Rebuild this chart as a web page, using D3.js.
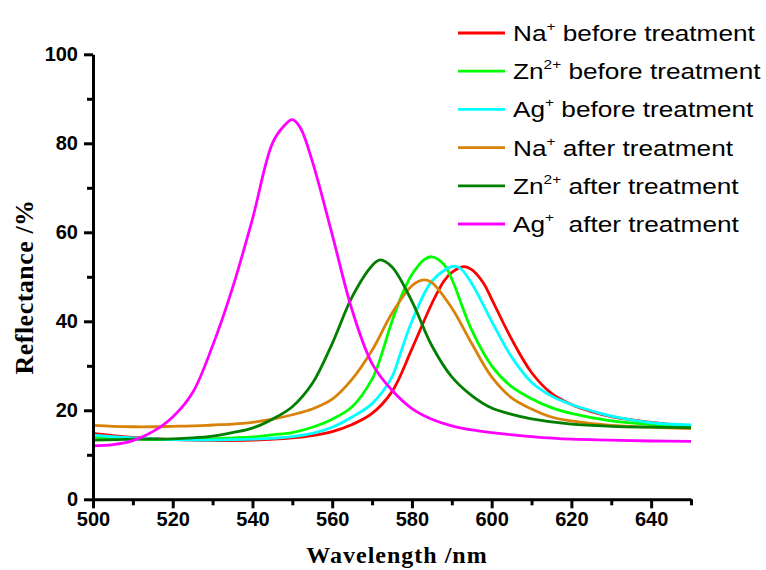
<!DOCTYPE html>
<html>
<head>
<meta charset="utf-8">
<script src="https://cdn.jsdelivr.net/npm/d3@7/dist/d3.min.js"></script>
<style>
  html, body { margin: 0; padding: 0; background: #fff; }
  svg { display: block; }
  text { white-space: pre; }
</style>
</head>
<body>
<svg id="chart" width="766" height="570"></svg>
<script>
// ---------- data ----------
const xTicks = [500, 520, 540, 560, 580, 600, 620, 640];
const yTicks = [0, 20, 40, 60, 80, 100];

const naBeforeWl = [500,505,510,520,530,540,550,555,560,565,570,575,580,585,588,590,593,595,598,600,605,610,615,620,625,630,640,650];
const naBeforeR  = [14.8,14.3,13.9,13.4,13.2,13.3,13.8,14.3,15.2,16.8,19.3,24.2,33.8,44,49,51,52.3,51.6,48.5,45,36,28.5,23.8,21.3,19.7,18.6,17.3,16.5];

const znBeforeWl = [500,510,520,530,540,545,550,555,560,565,570,572,575,578,580,583,585,588,590,595,600,605,610,615,620,630,640,650];
const znBeforeR  = [14.0,13.6,13.4,13.6,14.0,14.5,15.0,16.2,18.0,20.8,27,31.5,40,47,50.5,53.8,54.5,52.8,49.5,38,30,25.3,22.6,20.6,19.3,17.6,16.8,16.3];

const agBeforeWl = [500,510,520,530,540,550,555,560,565,570,575,577,580,585,590,592,595,600,605,610,615,620,625,630,640,650];
const agBeforeR  = [14.4,13.8,13.4,13.3,13.5,14.1,14.8,16.2,18.5,21.5,27.5,32.5,40,49,52.3,52,48.5,40,32,26.3,23.2,21.3,19.9,18.7,17.2,16.7];

const naAfterWl = [500,505,510,515,520,525,530,535,540,545,550,555,560,565,570,575,580,583,585,590,595,600,605,610,615,620,630,640,650];
const naAfterR  = [16.6,16.4,16.3,16.3,16.4,16.5,16.7,16.9,17.3,18.0,19.0,20.3,22.5,27,33.5,41.8,48,49.3,48.7,43,35,27.5,22.8,20.3,18.5,17.6,16.6,16.2,15.9];

const znAfterWl = [500,510,520,525,530,535,540,545,550,555,560,565,570,572,575,580,585,590,595,600,605,610,620,630,640,650];
const znAfterR  = [13.3,13.5,13.6,13.8,14.2,15.0,16.0,18.0,20.8,26,35,45.5,52.5,53.8,52.2,44.5,34.5,27.5,23.3,20.5,19.1,18.1,16.9,16.4,16.2,16.1];

const agAfterWl = [500,505,510,515,520,525,530,535,540,545,548,550,552,555,560,565,570,575,580,585,590,595,600,610,620,630,640,650];
const agAfterR  = [12.0,12.3,13.2,15.2,18.5,24,34.5,47.5,63,80,84,85.3,83.5,76,59.5,42.5,30.5,24.5,20.4,18,16.5,15.6,15,14.1,13.5,13.3,13.1,13.0];

const seriesIons   = ["Na", "Zn", "Ag", "Na", "Zn", "Ag"];
const seriesCharge = ["+", "2+", "+", "+", "2+", "+"];
const seriesLabels = [" before treatment", " before treatment", " before treatment", " after treatment", " after treatment", "  after treatment"];
const seriesColors = ["#ff0000", "#00ff00", "#00ffff", "#d98208", "#007f00", "#ff00ff"];
const seriesWl = [naBeforeWl, znBeforeWl, agBeforeWl, naAfterWl, znAfterWl, agAfterWl];
const seriesR  = [naBeforeR, znBeforeR, agBeforeR, naAfterR, znAfterR, agAfterR];

// ---------- chart ----------
const svg = d3.select("#chart");
const x = d3.scaleLinear().domain([500, 650]).range([93, 691]);
const y = d3.scaleLinear().domain([0, 100]).range([499.3, 54.3]);

const line = d3.line()
  .x(d => x(d[0]))
  .y(d => y(d[1]))
  .curve(d3.curveCatmullRom.alpha(0.5));

const plot = svg.append("g");
seriesWl.forEach((wl, i) => {
  const pts = wl.map((w, j) => [w, seriesR[i][j]]);
  plot.append("path")
    .datum(pts)
    .attr("fill", "none")
    .attr("stroke", seriesColors[i])
    .attr("stroke-width", 2.8)
    .attr("stroke-linejoin", "round")
    .attr("d", line);
});

// axes
const axisFont = "Arial, 'Liberation Sans', sans-serif";
// minor ticks
const xMinor = d3.axisBottom(x).tickValues(d3.range(510, 651, 20)).tickSize(6).tickFormat("");
const yMinor = d3.axisLeft(y).tickValues(d3.range(10, 100, 20)).tickSize(6).tickFormat("");
svg.append("g").attr("transform", "translate(0,499.3)").call(xMinor)
  .call(g => g.select(".domain").remove())
  .call(g => g.selectAll("line").attr("stroke", "#000").attr("stroke-width", 3));
svg.append("g").attr("transform", "translate(93,0)").call(yMinor)
  .call(g => g.select(".domain").remove())
  .call(g => g.selectAll("line").attr("stroke", "#000").attr("stroke-width", 3));

const xAxis = d3.axisBottom(x).tickValues(xTicks).tickSize(9).tickSizeOuter(0).tickPadding(4).tickFormat(d3.format("d"));
const yAxis = d3.axisLeft(y).tickValues(yTicks).tickSize(9).tickSizeOuter(0).tickPadding(6).tickFormat(d3.format("d"));

const gx = svg.append("g").attr("transform", "translate(0,499.3)").call(xAxis);
const gy = svg.append("g").attr("transform", "translate(93,0)").call(yAxis);
[gx, gy].forEach(g => {
  g.select(".domain").attr("stroke", "#000").attr("stroke-width", 3);
  g.selectAll(".tick line").attr("stroke", "#000").attr("stroke-width", 3);
  g.selectAll(".tick text")
    .attr("fill", "#000")
    .style("font-family", axisFont)
    .style("font-weight", "bold")
    .style("font-size", "20px");
});

// axis titles
svg.append("text")
  .attr("x", 397).attr("y", 563)
  .attr("text-anchor", "middle")
  .style("font-family", "'Liberation Serif', 'Times New Roman', serif")
  .style("font-weight", "bold")
  .style("font-size", "24px")
  .style("letter-spacing", "1px")
  .text("Wavelength /nm");

svg.append("text")
  .attr("transform", "translate(33,287) rotate(-90)")
  .attr("text-anchor", "middle")
  .style("font-family", "'Liberation Serif', 'Times New Roman', serif")
  .style("font-weight", "bold")
  .style("font-size", "26px")
  .style("letter-spacing", "0.5px")
  .text("Reflectance /%");

// legend
const legend = svg.append("g");
seriesIons.forEach((ion, i) => {
  const ly = 33 + i * 38.2;
  legend.append("line")
    .attr("x1", 458).attr("x2", 505)
    .attr("y1", ly).attr("y2", ly)
    .attr("stroke", seriesColors[i]).attr("stroke-width", 2.8);
  const t = legend.append("text")
    .attr("transform", `translate(513,${ly + 8}) scale(1.19,1)`)
    .style("font-family", axisFont)
    .style("font-size", "22px")
    .attr("fill", "#000");
  t.append("tspan").text(ion);
  t.append("tspan").attr("dy", -10).style("font-size", "13px").text(seriesCharge[i]);
  t.append("tspan").attr("dy", 10).text(seriesLabels[i]);
});
</script>
</body>
</html>
